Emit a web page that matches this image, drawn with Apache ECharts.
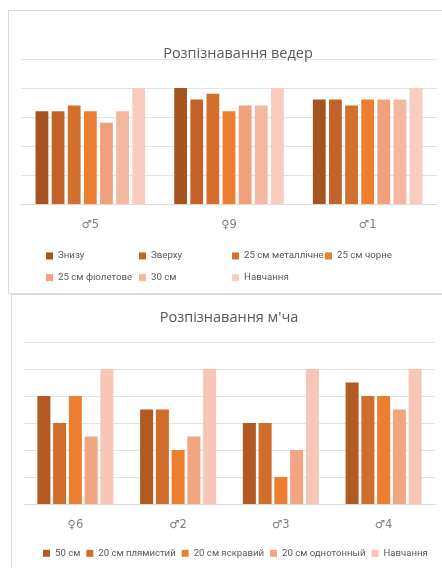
<!DOCTYPE html>
<html>
<head>
<meta charset="utf-8">
<script src="https://cdn.jsdelivr.net/npm/echarts@6/dist/echarts.min.js"></script>
<style>
  html, body { margin: 0; padding: 0; background: #fff; }
  #chart { width: 442px; height: 568px; }
</style>
</head>
<body>
<div id="chart"></div>
<script>
  // верхній графік: відра
  var bucketCats = ['♂5', '♀9', '♂1'];
  var bucketNames = ['Знизу', 'Зверху', '25 см металлічне', '25 см чорне', '25 см фіолетове', '30 см', 'Навчання'];
  var bucketValues = [
    [16, 20, 18],
    [16, 18, 18],
    [17, 19, 17],
    [16, 16, 18],
    [14, 17, 18],
    [16, 17, 18],
    [20, 20, 20]
  ];
  var bucketColors = ['#a5531f', '#c3622a', '#d3702f', '#ed7d31', '#f0a07c', '#f4b7a2', '#f8cdc0'];

  // нижній графік: м'яч
  var ballCats = ['♀6', '♂2', '♂3', '♂4'];
  var ballNames = ['50 см', '20 см плямистий', '20 см яскравий', '20 см однотонный', 'Навчання'];
  var ballValues = [
    [8, 7, 6, 9],
    [6, 7, 6, 8],
    [8, 4, 2, 8],
    [5, 5, 4, 7],
    [10, 10, 10, 10]
  ];
  var ballColors = ['#b35a22', '#d06c2c', '#ed7d31', '#f1a583', '#f7c6b6'];

  var chart = echarts.init(document.getElementById('chart'));
  var font = '"Open Sans", sans-serif';
  var legendFont = 'Roboto, sans-serif';
  // щоб "Навчання" нижнього графіка не збігалося з верхнім
  var ballKey = function (n) { return n + '\u200b'; };

  var series = [];
  bucketNames.forEach(function (n, i) {
    series.push({
      name: n, type: 'bar', xAxisIndex: 0, yAxisIndex: 0,
      data: bucketValues[i],
      barGap: '26%', barCategoryGap: '21%',
      itemStyle: { color: bucketColors[i] },
      emphasis: { disabled: true }
    });
  });
  ballNames.forEach(function (n, i) {
    series.push({
      name: ballKey(n), type: 'bar', xAxisIndex: 1, yAxisIndex: 1,
      data: ballValues[i],
      barGap: '21%', barCategoryGap: '26%',
      itemStyle: { color: ballColors[i] },
      emphasis: { disabled: true }
    });
  });

  var catLabel = { color: '#7f7f7f', fontSize: 11.5, margin: 15, fontFamily: '"DejaVu Sans", sans-serif' };

  chart.setOption({
    animation: false,
    textStyle: { fontFamily: font },
    title: [
      { text: 'Розпізнавання ведер', left: 233, top: 41, textAlign: 'center',
        textStyle: { fontSize: 14.5, fontWeight: 'normal', color: '#595959', fontFamily: font } },
      { text: 'Розпізнавання м\'ча', left: 224, top: 305, textAlign: 'center',
        textStyle: { fontSize: 14.5, fontWeight: 'normal', color: '#595959', fontFamily: font } }
    ],
    legend: [
      { data: bucketNames, left: 46, top: 245.6, width: 380, padding: 0,
        itemWidth: 7, itemHeight: 7, itemGap: 1, icon: 'rect',
        textStyle: { fontSize: 9.7, color: '#595959', width: 80, lineHeight: 20.7, fontFamily: legendFont } },
      { data: ballNames.map(ballKey), left: 43, top: 546.3, right: 0, padding: 0,
        itemWidth: 7, itemHeight: 7, itemGap: 6, icon: 'rect',
        textStyle: { fontSize: 9.6, color: '#595959', lineHeight: 14, fontFamily: legendFont } }
    ],
    grid: [
      { left: 21, top: 59, width: 416, height: 145 },
      { left: 24, top: 342, width: 411, height: 162 }
    ],
    xAxis: [
      { type: 'category', gridIndex: 0, data: bucketCats,
        axisLine: { lineStyle: { color: '#d9d9d9' } }, axisTick: { show: false },
        axisLabel: catLabel },
      { type: 'category', gridIndex: 1, data: ballCats,
        axisLine: { lineStyle: { color: '#d9d9d9' } }, axisTick: { show: false },
        axisLabel: catLabel }
    ],
    yAxis: [
      { type: 'value', gridIndex: 0, min: 0, max: 25, interval: 5,
        axisLabel: { show: false }, axisLine: { show: false }, axisTick: { show: false },
        splitLine: { lineStyle: { color: '#e3e3e3' } } },
      { type: 'value', gridIndex: 1, min: 0, max: 12, interval: 2,
        axisLabel: { show: false }, axisLine: { show: false }, axisTick: { show: false },
        splitLine: { lineStyle: { color: '#e3e3e3' } } }
    ],
    graphic: [
      { type: 'rect', shape: { x: 8.5, y: 10.5, width: 450, height: 283 },
        style: { fill: 'none', stroke: '#d9d9d9', lineWidth: 1 }, silent: true },
      { type: 'rect', shape: { x: 11.5, y: 294.5, width: 450, height: 290 },
        style: { fill: 'none', stroke: '#d9d9d9', lineWidth: 1 }, silent: true }
    ],
    series: series
  });
</script>
</body>
</html>
